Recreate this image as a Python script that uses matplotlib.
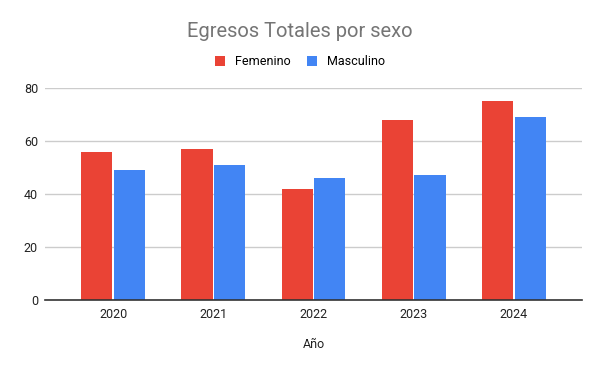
import matplotlib
matplotlib.use("Agg")
import matplotlib.pyplot as plt
import numpy as np

plt.rcParams['font.family'] = ['Roboto', 'DejaVu Sans']

years = ['2020', '2021', '2022', '2023', '2024']
femenino = [56, 57, 42, 68, 75]
masculino = [49, 51, 46, 47, 69]

red = '#ea4335'
blue = '#4285f4'

fig = plt.figure(figsize=(6, 3.71), dpi=100)
ax = fig.add_axes([0.075, 0.1914, 0.895, 0.5714])

x = np.arange(len(years))
w = 0.31
ax.bar(x - 0.163, femenino, w, color=red, label='Femenino', zorder=3)
ax.bar(x + 0.163, masculino, w, color=blue, label='Masculino', zorder=3)

ax.set_xlim(-0.68, 4.68)
ax.set_ylim(0, 80)
ax.set_yticks([0, 20, 40, 60, 80])
ax.set_xticks(x)
ax.set_xticklabels(years)
ax.grid(axis='y', color='#cccccc', linewidth=1, zorder=0)
for s in ['top', 'right', 'left']:
    ax.spines[s].set_visible(False)
ax.spines['bottom'].set_color('#333333')
ax.spines['bottom'].set_linewidth(1.2)
ax.spines['bottom'].set_zorder(4)
ax.tick_params(axis='both', length=0, labelsize=9, colors='#222222')
ax.tick_params(axis='x', pad=6)
ax.tick_params(axis='y', pad=5)

ax.set_xlabel('Año', fontsize=9, color='#222222', labelpad=12)

fig.text(0.5, 0.915, 'Egresos Totales por sexo', ha='center', va='center',
         fontsize=14.5, color='#757575')
fig.legend(loc='center', bbox_to_anchor=(0.5, 0.834), ncol=2, frameon=False,
           fontsize=9, handlelength=0.8, handleheight=0.8, columnspacing=1.3,
           handletextpad=0.8)

fig.savefig('out.png', dpi=100)
